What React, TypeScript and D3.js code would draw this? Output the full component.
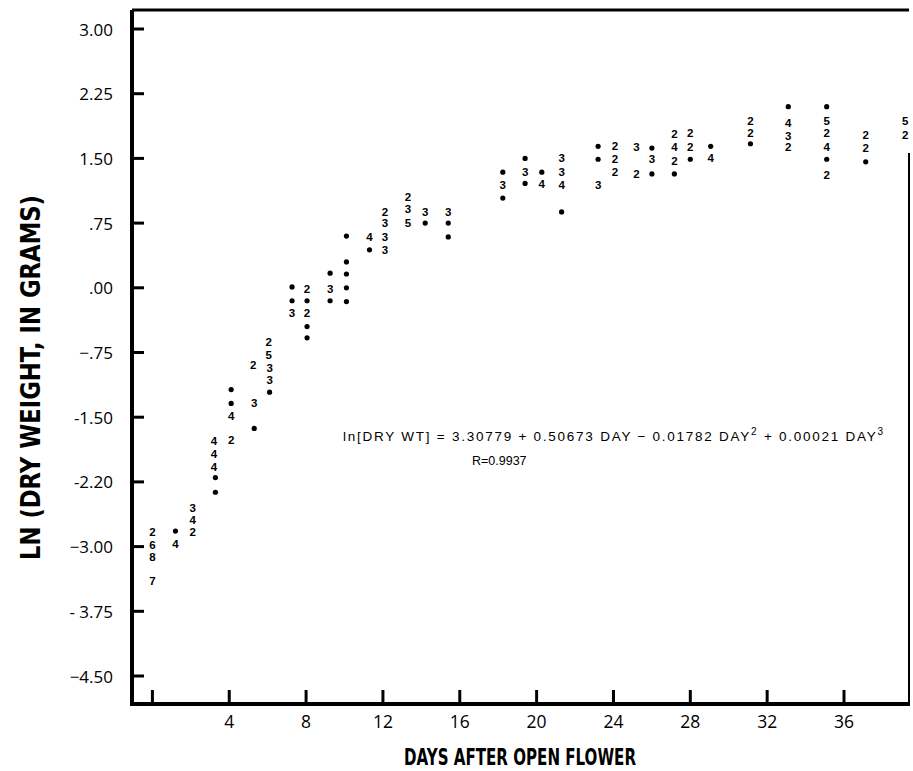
import React from "react";
import * as d3 from "d3";

// Each mark: day, ln(dry weight), label ("•" = single dot, digit = count)
const days: number[] = [
  0, 0, 0, 0,
  1.2, 1.2,
  2.1, 2.1, 2.1,
  3.2, 3.2, 3.2, 3.28, 3.28,
  4.1, 4.1, 4.1, 4.1,
  5.25, 5.3, 5.3,
  6.05, 6.05, 6.1, 6.1, 6.1,
  7.27, 7.27, 7.27,
  8.05, 8.05, 8.05, 8.05, 8.05,
  9.25, 9.25, 9.25,
  10.1, 10.1, 10.1, 10.1, 10.1,
  11.3, 11.3,
  12.1, 12.1, 12.1, 12.1,
  13.3, 13.3, 13.3,
  14.2, 14.2,
  15.4, 15.4, 15.4,
  18.24, 18.24, 18.24,
  19.4, 19.4, 19.4,
  20.27, 20.27,
  21.3, 21.3, 21.3, 21.3,
  23.2, 23.2, 23.2,
  24.08, 24.08, 24.08,
  25.2, 25.2,
  26.0, 26.0, 26.0,
  27.17, 27.17, 27.17, 27.17,
  28.0, 28.0, 28.0,
  29.06, 29.06,
  31.13, 31.13, 31.13,
  33.1, 33.1, 33.1, 33.1,
  35.1, 35.1, 35.1, 35.1, 35.1, 35.1,
  37.13, 37.13, 37.13,
  39.18, 39.18,
];
const lnWeights: number[] = [
  -2.83, -2.98, -3.12, -3.40,
  -2.82, -2.97,
  -2.55, -2.69, -2.83,
  -1.78, -1.93, -2.08, -2.20, -2.37,
  -1.18, -1.34, -1.49, -1.76,
  -0.89, -1.34, -1.63,
  -0.63, -0.78, -0.93, -1.07, -1.21,
  0.01, -0.15, -0.29,
  -0.01, -0.15, -0.29, -0.45, -0.58,
  0.17, -0.01, -0.15,
  0.60, 0.30, 0.16, 0.0, -0.16,
  0.59, 0.44,
  0.88, 0.75, 0.59, 0.44,
  1.05, 0.91, 0.75,
  0.88, 0.75,
  0.88, 0.75, 0.59,
  1.34, 1.19, 1.04,
  1.50, 1.34, 1.21,
  1.34, 1.20,
  1.50, 1.34, 1.19, 0.88,
  1.64, 1.49, 1.19,
  1.64, 1.49, 1.34,
  1.63, 1.32,
  1.62, 1.49, 1.32,
  1.78, 1.63, 1.47, 1.32,
  1.79, 1.63, 1.49,
  1.64, 1.50,
  1.93, 1.79, 1.67,
  2.10, 1.91, 1.76, 1.63,
  2.10, 1.93, 1.79, 1.63, 1.49, 1.31,
  1.77, 1.62, 1.46,
  1.93, 1.77,
];
const markLabels: string[] = [
  "2", "6", "8", "7",
  "•", "4",
  "3", "4", "2",
  "4", "4", "4", "•", "•",
  "•", "•", "4", "2",
  "2", "3", "•",
  "2", "5", "3", "3", "•",
  "•", "•", "3",
  "2", "•", "2", "•", "•",
  "•", "3", "•",
  "•", "•", "•", "•", "•",
  "4", "•",
  "2", "3", "3", "3",
  "2", "3", "5",
  "3", "•",
  "3", "•", "•",
  "•", "3", "•",
  "•", "3", "•",
  "•", "4",
  "3", "3", "4", "•",
  "•", "•", "3",
  "2", "2", "2",
  "3", "2",
  "•", "3", "•",
  "2", "4", "2", "•",
  "2", "2", "•",
  "•", "4",
  "2", "2", "•",
  "•", "4", "3", "2",
  "•", "5", "2", "4", "•", "2",
  "2", "2", "•",
  "5", "2",
];

const xTickValues: number[] = [0, 4, 8, 12, 16, 20, 24, 28, 32, 36];
const xTickLabels: string[] = ["", "4", "8", "12", "16", "20", "24", "28", "32", "36"];
const yTickValues: number[] = [3, 2.25, 1.5, 0.75, 0, -0.75, -1.5, -2.25, -3, -3.75, -4.5];
const yTickLabels: string[] = ["3.00", "2.25", "1.50", ".75", ".00", "\u2212.75", "-1.50", "-2.20", "\u22123.00", "- 3.75", "\u22124.50"];

const W = 913;
const H = 771;

export default function App() {
  const x = d3.scaleLinear().domain([0, 36]).range([152.4, 844]);
  const y = d3.scaleLinear().domain([3, -4.5]).range([29, 676]);
  const x0 = 132;
  const x1 = 909;
  const yTop = 10;
  const yBot = 704;

  const marks = days.map((d, i) => ({ d, v: lnWeights[i], l: markLabels[i] }));
  const tickFont = "'Open Sans', 'DejaVu Sans', sans-serif";
  const titleFont = "'DejaVu Sans', sans-serif";
  const eqFont = "'Liberation Sans', Arial, sans-serif";

  return (
    <svg width={W} height={H} style={{ position: "absolute", left: 0, top: 0, background: "#fff" }}>
      <rect x={0} y={0} width={W} height={H} fill="#fff" />
      {/* frame */}
      <line x1={x0} y1={yTop} x2={x0} y2={yBot + 2} stroke="#000" strokeWidth={4} />
      <line x1={x0 - 2} y1={yBot} x2={x1 + 1} y2={yBot} stroke="#000" strokeWidth={4} />
      <line x1={x0} y1={yTop} x2={x1} y2={yTop} stroke="#000" strokeWidth={3} />
      <line x1={x1} y1={153} x2={x1} y2={yBot} stroke="#000" strokeWidth={2} />

      {/* y ticks */}
      {yTickValues.map((v, i) => (
        <g key={"yt" + i}>
          <line x1={x0} x2={x0 + 12} y1={y(v)} y2={y(v)} stroke="#000" strokeWidth={3} />
          <text x={113} y={y(v)} textAnchor="end" dominantBaseline="central" fontFamily={tickFont} fontSize={17} fill="#000">
            {yTickLabels[i]}
          </text>
        </g>
      ))}

      {/* x ticks */}
      {xTickValues.map((v, i) => (
        <g key={"xt" + i}>
          <line x1={x(v)} x2={x(v)} y1={yBot} y2={yBot - 14} stroke="#000" strokeWidth={3} />
          <text x={x(v)} y={721} textAnchor="middle" dominantBaseline="central" fontFamily={tickFont} fontSize={17.5} fill="#000">
            {xTickLabels[i]}
          </text>
        </g>
      ))}

      {/* data marks */}
      {marks.map((m, i) =>
        m.l === "•" ? (
          <circle key={"m" + i} cx={x(m.d)} cy={y(m.v)} r={2.6} fill="#000" />
        ) : (
          <text key={"m" + i} x={x(m.d)} y={y(m.v)} textAnchor="middle" dominantBaseline="central"
            fontFamily={eqFont} fontWeight="bold" fontSize={11.5} fill="#000">
            {m.l}
          </text>
        )
      )}

      {/* equation */}
      <text x={343} y={436} fontFamily={eqFont} fontSize={13.5} letterSpacing={1.75} fill="#000" dominantBaseline="central">
        ln[DRY WT] = 3.30779 + 0.50673 DAY − 0.01782 DAY<tspan dy={-5} fontSize={10}>2</tspan>
        <tspan dy={5}> + 0.00021 DAY</tspan><tspan dy={-5} fontSize={10}>3</tspan>
      </text>
      <text x={472} y={461} fontFamily={eqFont} fontSize={12.5} fill="#000" dominantBaseline="central">
        R=0.9937
      </text>

      {/* axis titles */}
      <text x={404} y={757} textLength={232} lengthAdjust="spacingAndGlyphs" dominantBaseline="central" fontFamily={titleFont} fontWeight="bold"
        fontSize={23} fill="#000">
        DAYS  AFTER  OPEN  FLOWER
      </text>
      <text transform={`translate(31, 560) rotate(-90)`} textLength={365} lengthAdjust="spacingAndGlyphs" dominantBaseline="central" fontFamily={titleFont}
        fontWeight="bold" fontSize={26} fill="#000">
        LN (DRY WEIGHT, IN GRAMS)
      </text>
    </svg>
  );
}
